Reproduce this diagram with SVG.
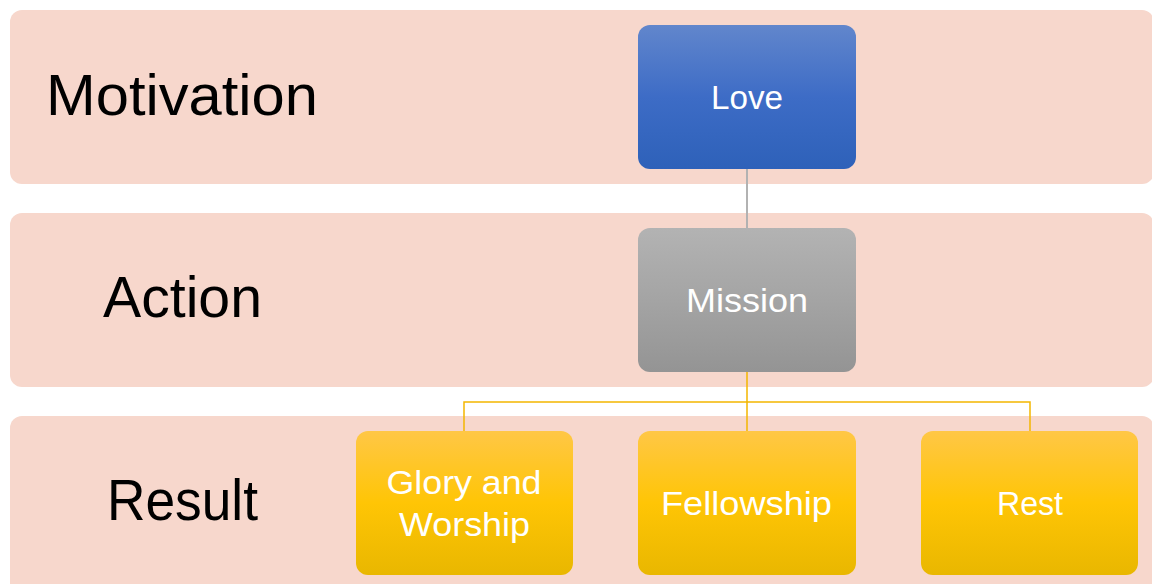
<svg xmlns="http://www.w3.org/2000/svg" width="1152" height="584" viewBox="0 0 1152 584">
<defs>
<linearGradient id="gBlue" x1="0" y1="0" x2="0" y2="1"><stop offset="0" stop-color="#6186CC"/><stop offset="0.5" stop-color="#3D6CC6"/><stop offset="1" stop-color="#2E61B9"/></linearGradient>
<linearGradient id="gGray" x1="0" y1="0" x2="0" y2="1"><stop offset="0" stop-color="#B3B3B3"/><stop offset="0.5" stop-color="#A4A4A4"/><stop offset="1" stop-color="#949494"/></linearGradient>
<linearGradient id="gGold" x1="0" y1="0" x2="0" y2="1"><stop offset="0" stop-color="#FFC746"/><stop offset="0.5" stop-color="#FFC505"/><stop offset="1" stop-color="#E9B700"/></linearGradient>
<style>
.band{fill:#F7D7CC}
.lbl{font-family:"Liberation Sans",Arial,sans-serif;font-size:57px;fill:#000}
.box{font-family:"Liberation Sans",Arial,sans-serif;font-size:34px;fill:#fff;text-anchor:middle}
.conG{stroke:#B2B2B2;stroke-width:2;fill:none}
.conY{stroke:#F3B700;stroke-width:1.5;fill:none}
</style>
</defs>
<g id="band-motivation"><rect class="band" x="10" y="10" width="1144" height="174" rx="12"/><text class="lbl" x="46" y="115" textLength="272" lengthAdjust="spacingAndGlyphs">Motivation</text></g>
<g id="band-action"><rect class="band" x="10" y="213" width="1144" height="174" rx="12"/><text class="lbl" x="103" y="317" textLength="159" lengthAdjust="spacingAndGlyphs">Action</text></g>
<g id="band-result"><rect class="band" x="10" y="416" width="1144" height="180" rx="12"/><text class="lbl" x="107" y="520" textLength="151" lengthAdjust="spacingAndGlyphs">Result</text></g>
<g id="connectors">
<line class="conG" x1="747" y1="169" x2="747" y2="228"/>
<path class="conY" d="M747 372V431M464 431V402H1030V431"/>
</g>
<g id="love"><rect x="638" y="25" width="218" height="144" rx="12" fill="url(#gBlue)"/><text class="box" x="747" y="109" textLength="72" lengthAdjust="spacingAndGlyphs">Love</text></g>
<g id="mission"><rect x="638" y="228" width="218" height="144" rx="12" fill="url(#gGray)"/><text class="box" x="747" y="312" textLength="122" lengthAdjust="spacingAndGlyphs">Mission</text></g>
<g id="glory"><rect x="356" y="431" width="217" height="144" rx="12" fill="url(#gGold)"/><text class="box" x="464" y="494" textLength="155" lengthAdjust="spacingAndGlyphs">Glory and</text><text class="box" x="464.5" y="536" textLength="131" lengthAdjust="spacingAndGlyphs">Worship</text></g>
<g id="fellowship"><rect x="638" y="431" width="218" height="144" rx="12" fill="url(#gGold)"/><text class="box" x="746.5" y="515" textLength="171" lengthAdjust="spacingAndGlyphs">Fellowship</text></g>
<g id="rest"><rect x="921" y="431" width="217" height="144" rx="12" fill="url(#gGold)"/><text class="box" x="1030" y="515" textLength="66" lengthAdjust="spacingAndGlyphs">Rest</text></g>
</svg>
